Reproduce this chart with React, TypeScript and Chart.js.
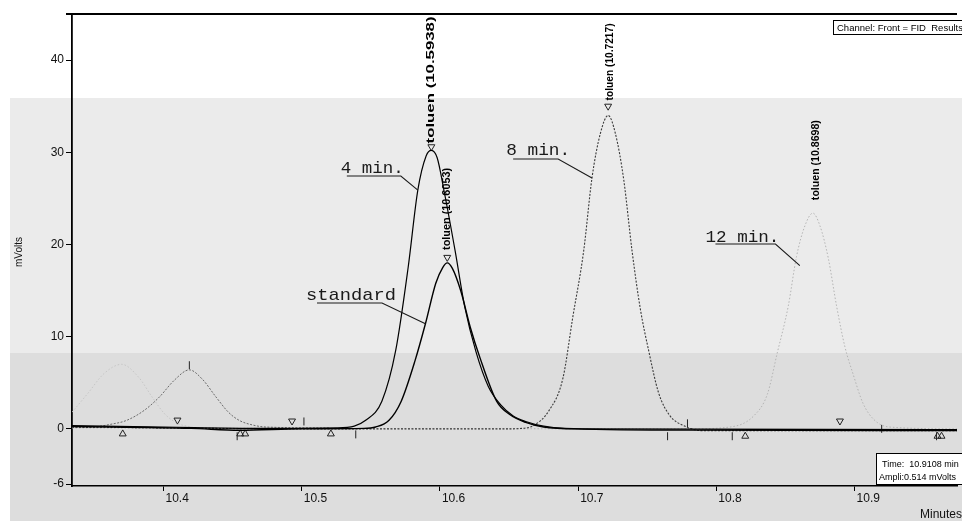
import React, { useEffect, useRef } from 'react';
import { Chart, registerables } from 'chart.js';

Chart.register(...registerables);

// Axis windows: retention time (minutes) and detector signal (mV)
const timeMin = 10.3338;
const timeMax = 10.9741;
const voltMin = -6.2;
const voltMax = 45;
const xTickValues = [10.4, 10.5, 10.6, 10.7, 10.8, 10.9];
const yTickValues = [-6, 0, 10, 20, 30, 40];

// FID traces, [minutes, mV]
const run4min: [number, number][] = [
  [10.3338, 0.35], [10.4, 0.2], [10.47, 0.05], [10.525, 0.1], [10.538, 0.3],
  [10.546, 0.9], [10.558, 3.0], [10.568, 8.5], [10.577, 17.5], [10.584, 25.9],
  [10.59, 29.6], [10.5938, 30.2], [10.598, 29.4], [10.603, 25.8], [10.611, 19.3],
  [10.618, 13.2], [10.626, 8.4], [10.635, 4.6], [10.644, 2.6], [10.653, 1.4],
  [10.662, 0.8], [10.675, 0.3], [10.69, 0.05], [10.78, -0.15], [10.9741, -0.2],
];
const runStandard: [number, number][] = [
  [10.3338, 0.25], [10.42, 0.05], [10.455, -0.15], [10.5, 0], [10.545, 0.05],
  [10.5535, 0.2], [10.563, 0.9], [10.572, 3.0], [10.582, 7.4], [10.5895, 11.4],
  [10.597, 15.8], [10.602, 17.5], [10.6053, 18.0], [10.609, 17.4], [10.615, 15.0],
  [10.622, 11.0], [10.629, 7.7], [10.641, 3.0], [10.651, 1.5], [10.662, 0.7],
  [10.675, 0.2], [10.7, 0], [10.9741, -0.1],
];
const run8min: [number, number][] = [
  [10.3338, 0.2], [10.5, 0], [10.65, 0], [10.662, 0.1], [10.667, 0.3],
  [10.679, 2.0], [10.689, 5.5], [10.696, 12.0], [10.704, 19.3], [10.71, 27.2],
  [10.716, 32.0], [10.7217, 34.0], [10.727, 32.0], [10.733, 27.0], [10.739, 19.3],
  [10.745, 13.0], [10.751, 8.5], [10.758, 4.0], [10.766, 1.5], [10.777, 0.3],
  [10.79, -0.2], [10.9741, -0.2],
];
const run12min: [number, number][] = [
  [10.3338, 0.1], [10.78, 0], [10.81, 0.2], [10.827, 1.4], [10.837, 3.8],
  [10.844, 8.2], [10.852, 13.3], [10.858, 18.7], [10.864, 22.0], [10.8698, 23.4],
  [10.875, 22.0], [10.881, 18.5], [10.887, 13.3], [10.893, 8.9], [10.899, 5.9],
  [10.906, 2.8], [10.914, 1.0], [10.925, 0.2], [10.9741, 0],
];
const earlyPeak: [number, number][] = [
  [10.3338, 0.15], [10.349, 0.2], [10.362, 0.5], [10.373, 0.9], [10.386, 2.0],
  [10.397, 3.45], [10.408, 5.3], [10.4187, 6.4], [10.428, 5.4], [10.438, 3.45],
  [10.447, 1.8], [10.455, 0.9], [10.465, 0.4], [10.474, 0.2], [10.52, 0.1],
];
const ghostPeak: [number, number][] = [
  [10.3338, 1.8], [10.345, 3.8], [10.357, 6.0], [10.3697, 7.0], [10.382, 5.6],
  [10.392, 3.4], [10.401, 1.6], [10.41, 0.6], [10.42, 0.2],
];

// Integration events
const peakStartMarks: [number, number][] = [[10.4101, 0.95], [10.493, 0.85], [10.8894, 0.85]];
const apexMarks: [number, number][] = [[10.5938, 30.6], [10.6053, 18.6], [10.7217, 35.0]];
const peakEndMarks: [number, number][] = [
  [10.3705, -0.55], [10.4555, -0.55], [10.4591, -0.55], [10.5211, -0.55],
  [10.8209, -0.8], [10.96, -0.8], [10.9629, -0.8],
];
const eventTicks: [number, number][] = [
  [10.4187, 6.9], [10.4533, -0.8], [10.5016, 0.8], [10.5391, -0.6], [10.7647, -0.8],
  [10.7791, 0.6], [10.8115, -0.8], [10.9196, 0.0], [10.9593, -0.8],
];

// Peak identification
const peakCompound = 'toluen';
const peakTimes = [10.5938, 10.6053, 10.7217, 10.8698];
const peakTraces = [run4min, runStandard, run8min, run12min];

// Run labels and where their leader lines touch the traces
const runNames = ['4 min.', 'standard', '8 min.', '12 min.'];
const runLeaderTargets: [number, number][] = [[10.584, 25.9], [10.5895, 11.4], [10.71, 27.2], [10.8604, 17.7]];

const SANS = '"Liberation Sans", Arial, sans-serif';
const MONO = '"Liberation Mono", "Courier New", monospace';

const toPts = (arr: [number, number][]) => arr.map(([x, y]) => ({ x, y }));

export default function App() {
  const canvasRef = useRef<HTMLCanvasElement | null>(null);

  useEffect(() => {
    const canvas = canvasRef.current;
    if (!canvas) return;

    // layout of the peak-id texts: [dx px, gap px above apex, length px]
    const peakLabelLayout = [[0, 7, 127], [0, 13, 82], [2, 15, 77], [3, 13, 80]];
    // layout of run labels: [text left (min), baseline (mV), width px, underline start, underline end, underline drop]
    const runLabelLayout = [
      [10.5283, 27.75, 63, 6, 60, 3],
      [10.5031, 13.97, 90, 11, 76, 3],
      [10.6479, 29.7, 64, 7, 52, 4],
      [10.7921, 20.26, 74, 10, 70, 2],
    ];

    const decor = {
      id: 'decor',
      beforeDraw(chart: any) {
        const { ctx, width, height } = chart;
        ctx.save();
        ctx.fillStyle = '#ffffff';
        ctx.fillRect(0, 0, width, height);
        ctx.fillStyle = '#ebebeb';
        ctx.fillRect(10, 98, width - 10, 255);
        ctx.fillStyle = '#dddddd';
        ctx.fillRect(10, 353, width - 10, height - 353);
        ctx.restore();
      },
      afterDraw(chart: any) {
        const { ctx, chartArea } = chart;
        const xs = chart.scales.x;
        const ys = chart.scales.y;
        ctx.save();

        // top frame
        ctx.strokeStyle = '#000';
        ctx.lineWidth = 2;
        ctx.beginPath();
        ctx.moveTo(chartArea.left - 6, chartArea.top);
        ctx.lineTo(chartArea.right, chartArea.top);
        ctx.stroke();

        // vertical peak-id texts
        ctx.fillStyle = '#000';
        ctx.font = `bold 10px ${SANS}`;
        ctx.textAlign = 'left';
        ctx.textBaseline = 'middle';
        peakTimes.forEach((t, i) => {
          const apex = Math.max(...peakTraces[i].map((p) => p[1]));
          const [dx, gap, len] = peakLabelLayout[i];
          const text = `${peakCompound} (${t.toFixed(4)})`;
          const w = ctx.measureText(text).width;
          ctx.save();
          ctx.translate(xs.getPixelForValue(t) + dx, ys.getPixelForValue(apex) - gap);
          ctx.rotate(-Math.PI / 2);
          ctx.scale(len / w, 1);
          ctx.fillText(text, 0, 0);
          ctx.restore();
        });

        // run labels with underline and leader line
        ctx.font = `17px ${MONO}`;
        ctx.textBaseline = 'alphabetic';
        ctx.strokeStyle = '#1a1a1a';
        ctx.lineWidth = 1.1;
        runNames.forEach((name, i) => {
          const [tx, ty, tw, u0, u1, drop] = runLabelLayout[i];
          const px = xs.getPixelForValue(tx);
          const py = ys.getPixelForValue(ty);
          const w = ctx.measureText(name).width;
          ctx.save();
          ctx.translate(px, py);
          ctx.scale(tw / w, 1);
          ctx.fillStyle = '#1a1a1a';
          ctx.fillText(name, 0, 0);
          ctx.restore();
          const [lt, lv] = runLeaderTargets[i];
          ctx.beginPath();
          ctx.moveTo(px + u0, py + drop);
          ctx.lineTo(px + u1, py + drop);
          ctx.lineTo(xs.getPixelForValue(lt), ys.getPixelForValue(lv));
          ctx.stroke();
        });

        // y title
        ctx.fillStyle = '#111';
        ctx.font = `10px ${SANS}`;
        ctx.textAlign = 'center';
        ctx.textBaseline = 'middle';
        ctx.save();
        ctx.translate(19, 252);
        ctx.rotate(-Math.PI / 2);
        ctx.fillText('mVolts', 0, 0);
        ctx.restore();

        // x title
        ctx.font = `12px ${SANS}`;
        ctx.textAlign = 'left';
        ctx.textBaseline = 'alphabetic';
        ctx.fillText('Minutes', 920, 518);

        // channel box
        ctx.lineWidth = 1;
        ctx.strokeStyle = '#000';
        ctx.fillStyle = '#fff';
        ctx.fillRect(833, 20, 140, 14);
        ctx.strokeRect(833.5, 20.5, 140, 14);
        ctx.fillStyle = '#000';
        ctx.font = `9.5px ${SANS}`;
        ctx.fillText('Channel: Front = FID  Results', 837, 31);

        // cursor readout box
        ctx.fillStyle = '#fff';
        ctx.fillRect(876, 453, 100, 31);
        ctx.strokeRect(876.5, 453.5, 100, 31);
        ctx.fillStyle = '#000';
        ctx.font = `9px ${SANS}`;
        ctx.fillText('Time:  10.9108 min', 882, 467);
        ctx.fillText('Ampli:0.514 mVolts', 879, 480);

        ctx.restore();
      },
    };

    const line = (data: [number, number][], color: string, width: number, dash: number[] = []) => ({
      data: toPts(data),
      borderColor: color,
      borderWidth: width,
      borderDash: dash,
      pointRadius: 0,
      fill: false,
      cubicInterpolationMode: 'monotone' as const,
    });
    const marks = (data: [number, number][], style: string, rotation: number, radius: number) => ({
      data: toPts(data),
      showLine: false,
      pointStyle: style,
      pointRotation: rotation,
      pointRadius: radius,
      pointBorderWidth: 1,
      pointBorderColor: '#222',
      pointBackgroundColor: 'rgba(0,0,0,0)',
    });

    const chart = new Chart(canvas, {
      type: 'line',
      data: {
        datasets: [
          line(run4min, '#000', 1.2),
          line(runStandard, '#000', 1.4),
          line(run8min, '#3a3a3a', 1.1, [2, 1.5]),
          line(earlyPeak, '#6a6a6a', 1, [2, 1.5]),
          line(run12min, '#b4b4b4', 1, [1.5, 2]),
          line(ghostPeak, '#c6c6c6', 1, [1.5, 2]),
          marks(peakStartMarks, 'triangle', 180, 4),
          marks(apexMarks, 'triangle', 180, 4),
          marks(peakEndMarks, 'triangle', 0, 4),
          marks(eventTicks, 'line', 90, 4),
        ] as any,
      },
      options: {
        animation: false,
        responsive: false,
        devicePixelRatio: 1,
        layout: { padding: { top: 14, left: 0, right: 0, bottom: 0 } },
        plugins: { legend: { display: false }, tooltip: { enabled: false } },
        scales: {
          x: {
            type: 'linear',
            min: timeMin,
            max: timeMax,
            afterBuildTicks: (s: any) => {
              s.ticks = xTickValues.map((value) => ({ value }));
            },
            afterFit: (s: any) => {
              s.height = 35;
            },
            grid: { drawOnChartArea: false, drawTicks: true, tickLength: 5, color: '#000', lineWidth: 1 },
            border: { display: true, color: '#000', width: 1.5 },
            ticks: {
              align: 'start',
              labelOffset: 2,
              padding: 0,
              maxRotation: 0,
              autoSkip: false,
              color: '#111',
              font: { family: SANS, size: 12 },
              callback: (v: any) => Number(v).toFixed(1),
            },
          },
          y: {
            type: 'linear',
            min: voltMin,
            max: voltMax,
            afterBuildTicks: (s: any) => {
              s.ticks = yTickValues.map((value) => ({ value }));
            },
            afterFit: (s: any) => {
              s.width = 72;
            },
            grid: { drawOnChartArea: false, drawTicks: true, tickLength: 6, color: '#000', lineWidth: 1 },
            border: { display: true, color: '#000', width: 1.8 },
            ticks: {
              padding: 2,
              autoSkip: false,
              color: '#111',
              font: { family: SANS, size: 12 },
              callback: (v: any) => String(v),
            },
          },
        },
      } as any,
      plugins: [decor],
    });

    return () => chart.destroy();
  }, []);

  return (
    <div style={{ position: 'absolute', left: 0, top: 0, width: 962, height: 521 }}>
      <canvas ref={canvasRef} width={962} height={521} style={{ display: 'block' }} />
    </div>
  );
}
